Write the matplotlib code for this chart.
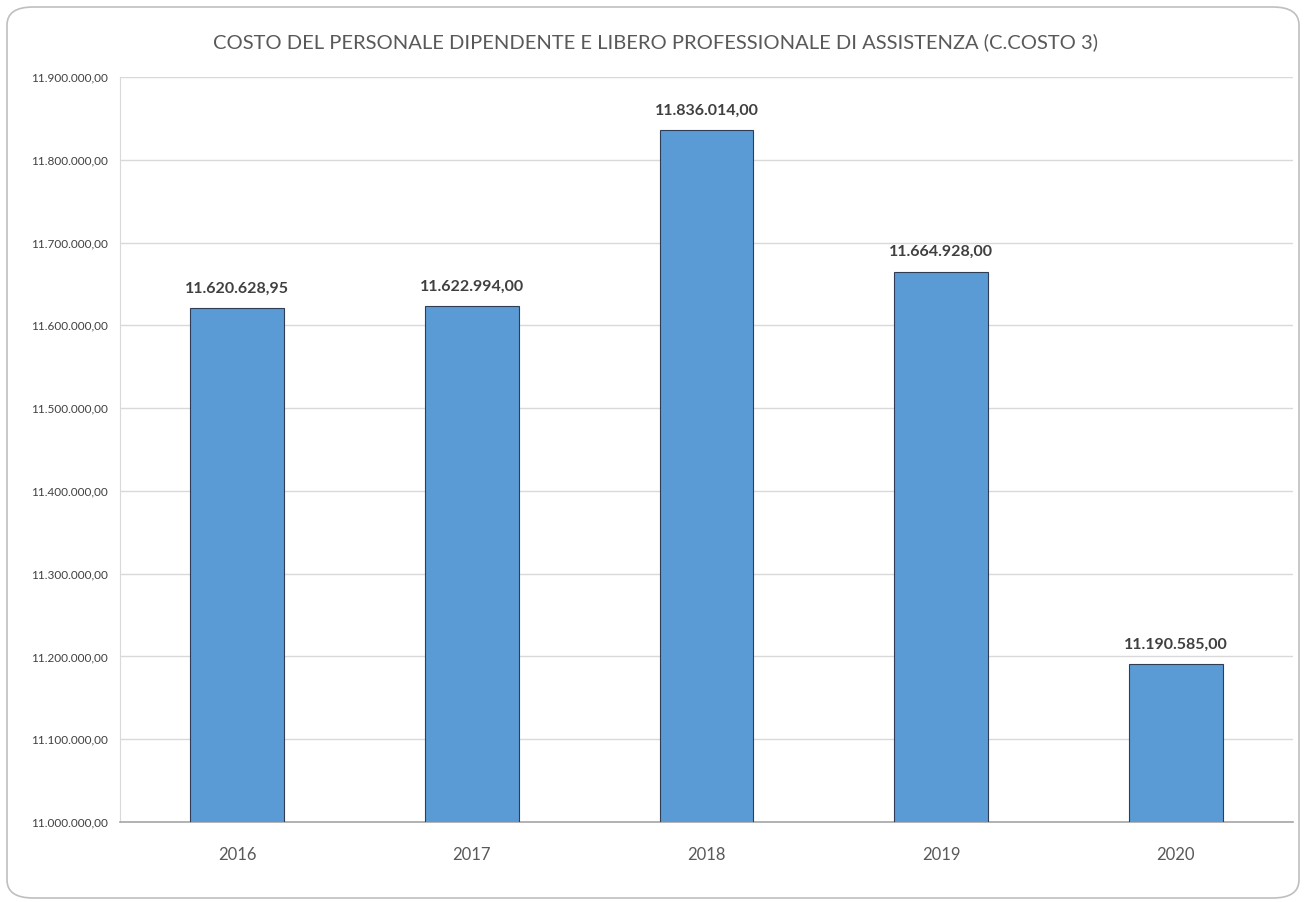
import matplotlib
matplotlib.use("Agg")
import matplotlib.pyplot as plt
from matplotlib.patches import FancyBboxPatch
from matplotlib.ticker import FuncFormatter

# dati del grafico
anni = ["2016", "2017", "2018", "2019", "2020"]
costi = [11620628.95, 11622994.00, 11836014.00, 11664928.00, 11190585.00]
etichette = ["11.620.628,95", "11.622.994,00", "11.836.014,00", "11.664.928,00", "11.190.585,00"]
titolo = "COSTO DEL PERSONALE DIPENDENTE E LIBERO PROFESSIONALE DI ASSISTENZA (C.COSTO 3)"

plt.rcParams['font.family'] = ['Lato', 'DejaVu Sans']

def formato_it(v, pos=None):
    s = f"{v:,.2f}"
    return s.replace(",", "X").replace(".", ",").replace("X", ".")

fig = plt.figure(figsize=(13.06, 9.02), dpi=100)
fig.patch.set_facecolor("white")

# cornice arrotondata
cornice = FancyBboxPatch((7 / 1306, 4 / 902), 1292 / 1306, 891 / 902,
                         boxstyle="round,pad=0,rounding_size=0.02",
                         transform=fig.transFigure, facecolor="white",
                         edgecolor="#BFBFBF", linewidth=1.2, zorder=-5)
fig.patches.append(cornice)

ax = fig.add_axes([120 / 1306, 1 - 822 / 902, 1173 / 1306, 745 / 902])
ax.set_zorder(2)
ax.set_facecolor("none")

x = range(len(anni))
ax.bar(x, costi, width=0.4, color="#5B9BD5", edgecolor="#2F3E55", linewidth=0.8, zorder=3)

for i, (v, t) in enumerate(zip(costi, etichette)):
    ax.annotate(t, (i, v), xytext=(0, 9), textcoords="offset points",
                ha="center", va="bottom", fontsize=11.5, fontweight="bold", color="#404040")

ax.set_xlim(-0.5, len(anni) - 0.5)
ax.set_ylim(11000000, 11900000)
ax.set_yticks([11000000 + i * 100000 for i in range(10)])
ax.yaxis.set_major_formatter(FuncFormatter(formato_it))
ax.set_xticks(list(x))
ax.set_xticklabels(anni)

ax.grid(axis="y", color="#D9D9D9", linewidth=1, zorder=0)
ax.tick_params(axis="y", length=0, labelsize=8.5, labelcolor="#404040", pad=9)
ax.tick_params(axis="x", length=0, labelsize=12, labelcolor="#595959", pad=18)

for s in ["top", "right"]:
    ax.spines[s].set_visible(False)
ax.spines["left"].set_color("#D9D9D9")
ax.spines["bottom"].set_color("#A6A6A6")
ax.spines["bottom"].set_linewidth(1.2)

fig.text(656 / 1306, 1 - 42 / 902, titolo, ha="center", va="center",
         fontsize=14.5, color="#595959")

fig.savefig("out.png", dpi=100)
